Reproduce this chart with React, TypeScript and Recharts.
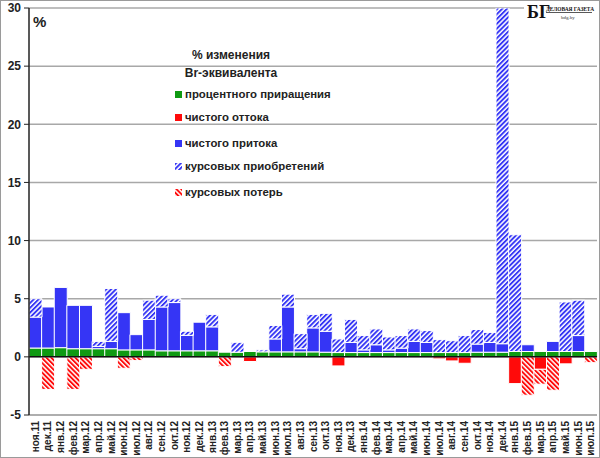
import { BarChart, Bar, XAxis, YAxis, CartesianGrid, ReferenceLine } from 'recharts';

const months = [
  'ноя.11', 'дек.11',
  'янв.12', 'фев.12', 'мар.12', 'апр.12', 'май.12', 'июн.12', 'июл.12', 'авг.12', 'сен.12', 'окт.12', 'ноя.12', 'дек.12',
  'янв.13', 'фев.13', 'мар.13', 'апр.13', 'май.13', 'июн.13', 'июл.13', 'авг.13', 'сен.13', 'окт.13', 'ноя.13', 'дек.13',
  'янв.14', 'фев.14', 'мар.14', 'апр.14', 'май.14', 'июн.14', 'июл.14', 'авг.14', 'сен.14', 'окт.14', 'ноя.14', 'дек.14',
  'янв.15', 'фев.15', 'мар.15', 'апр.15', 'май.15', 'июн.15', 'июл.15',
];

// процентного приращения
const interest = [
  0.76, 0.76,
  0.79, 0.7, 0.7, 0.7, 0.7, 0.6, 0.6, 0.6, 0.52, 0.52, 0.52, 0.52,
  0.52, 0.4, 0.4, 0.46, 0.43, 0.43, 0.43, 0.43, 0.43, 0.4, 0.37, 0.37,
  0.37, 0.37, 0.37, 0.37, 0.37, 0.37, 0.37, 0.37, 0.37, 0.4, 0.4, 0.4,
  0.46, 0.46, 0.46, 0.46, 0.46, 0.46, 0.46,
];

// чистого оттока
const outflow = [
  0, 0,
  0, 0, 0, 0, 0, 0, 0, 0, 0, 0, 0, 0,
  0, 0, 0, -0.4, 0, 0, 0, 0, 0, 0, -0.78, 0,
  0, 0, 0, 0, 0, 0, -0.17, -0.35, -0.55, 0, 0, 0,
  -2.3, 0, -1.07, 0, -0.6, 0, 0,
];

// чистого притока
const inflow = [
  2.66, 3.53,
  5.18, 3.73, 3.73, 0.2, 0.63, 3.2, 1.31, 2.62, 3.77, 4.15, 1.33, 2.46,
  2.06, 0, 0, 0, 0, 1.11, 3.86, 0.27, 2.06, 1.8, 0, 0.87,
  0.23, 0.67, 0.23, 0.38, 0.96, 0.87, 0, 0, 0, 0.7, 0.84, 0.73,
  0, 0.58, 0, 0.87, 0, 1.37, 0,
];

// курсовых приобретений
const gains = [
  1.58, 0,
  0, 0, 0, 0.43, 4.55, 0, 0, 1.65, 1.01, 0.33, 0.35, 0,
  1.07, 0, 0.85, 0, 0.17, 1.16, 1.1, 1.3, 1.16, 1.54, 1.17, 1.98,
  1.23, 1.36, 1.11, 1.08, 1.07, 1.02, 1.11, 1.02, 1.46, 1.25, 0.86, 29.5,
  10.04, 0, 0, 0, 4.26, 3.04, 0,
];

// курсовых потерь
const losses = [
  0, -2.8,
  0, -2.8, -1.07, 0, 0, -0.98, -0.32, 0, 0, 0, 0, 0,
  0, -0.84, 0, 0, 0, 0, 0, 0, 0, 0, 0, 0,
  0, 0, 0, 0, 0, 0, 0, 0, 0, 0, 0, 0,
  0, -3.3, -1.28, -2.87, 0, 0, -0.5,
];

const yTicks = [-5, 0, 5, 10, 15, 20, 25, 30];

const GREEN = '#0f9a12';
const RED = '#ff0a0a';
const BLUE = '#3535f5';

const chartData = months.map((m, i) => ({
  name: m,
  interest: interest[i],
  outflow: outflow[i],
  inflow: inflow[i],
  gains: gains[i],
  losses: losses[i],
}));

const legendItems = [
  { label: 'процентного приращения', fill: GREEN, top: 88 },
  { label: 'чистого оттока', fill: RED, top: 111 },
  { label: 'чистого притока', fill: BLUE, top: 137 },
  { label: 'курсовых приобретений', fill: 'url(#lgBlue)', top: 160 },
  { label: 'курсовых потерь', fill: 'url(#lgRed)', top: 186 },
];

const font = "'Liberation Sans', Arial, sans-serif";
const serif = "'Liberation Serif', serif";

function Hatch({ id, color, angle }: { id: string; color: string; angle: number }) {
  return (
    <pattern id={id} patternUnits="userSpaceOnUse" width="3.4" height="3.4" patternTransform={`rotate(${angle})`}>
      <rect width="3.4" height="3.4" fill="#fff" />
      <rect width="1.9" height="3.4" fill={color} />
    </pattern>
  );
}

// eslint-disable-next-line @typescript-eslint/no-explicit-any
const XTick = ({ x, y, payload }: any) => (
  <text
    x={x}
    y={y + 4}
    dy="0.35em"
    transform={`rotate(-90 ${x} ${y + 4})`}
    textAnchor="end"
    fontSize={10}
    fontWeight="bold"
    fontFamily={font}
    fill="#222"
  >
    {payload.value}
  </text>
);

export default function App() {
  return (
    <div style={{ position: 'absolute', left: 0, top: 0, width: 600, height: 458, background: '#fff', fontFamily: font }}>
      <BarChart
        width={600}
        height={458}
        data={chartData}
        stackOffset="sign"
        barCategoryGap={0}
        margin={{ top: 8, right: 3, bottom: 0, left: 0 }}
      >
        <defs>
          <Hatch id="hatchBlue" color={BLUE} angle={45} />
          <Hatch id="hatchRed" color={RED} angle={-45} />
        </defs>
        <CartesianGrid vertical={false} stroke="#a8a8a8" strokeWidth={1.5} />
        <XAxis
          dataKey="name"
          interval={0}
          tick={<XTick />}
          tickLine={false}
          tickSize={0}
          height={43}
          axisLine={{ stroke: '#a8a8a8', strokeWidth: 1.5 }}
        />
        <YAxis
          domain={[-5, 30]}
          ticks={yTicks}
          allowDataOverflow
          width={29}
          tickSize={5}
          tickMargin={3}
          tickLine={{ stroke: '#222' }}
          axisLine={{ stroke: '#222', strokeWidth: 1.5 }}
          tick={{ fontSize: 12, fontWeight: 'bold', fill: '#222', fontFamily: font }}
        />
        <Bar dataKey="interest" stackId="a" fill={GREEN} stroke="#fff" strokeWidth={1} isAnimationActive={false} />
        <Bar dataKey="outflow" stackId="a" fill={RED} stroke="#fff" strokeWidth={1} isAnimationActive={false} />
        <Bar dataKey="inflow" stackId="a" fill={BLUE} stroke="#fff" strokeWidth={1} isAnimationActive={false} />
        <Bar dataKey="gains" stackId="a" fill="url(#hatchBlue)" stroke="#fff" strokeWidth={1} isAnimationActive={false} />
        <Bar dataKey="losses" stackId="a" fill="url(#hatchRed)" stroke="#fff" strokeWidth={1} isAnimationActive={false} />
        <ReferenceLine y={0} stroke="#111" strokeWidth={1.5} />
      </BarChart>

      <div style={{ position: 'absolute', left: 33, top: 13, fontSize: 15, fontWeight: 'bold', color: '#222' }}>%</div>

      <div style={{ position: 'absolute', left: 150, top: 46, width: 162, textAlign: 'center', fontSize: 12, fontWeight: 'bold', color: '#222', lineHeight: '18px' }}>
        <div>% изменения</div>
        <div>Br-эквивалента</div>
      </div>
      {legendItems.map((it) => (
        <div
          key={it.label}
          style={{ position: 'absolute', left: 175, top: it.top, display: 'flex', alignItems: 'center', fontSize: 11.4, fontWeight: 'bold', color: '#222', whiteSpace: 'nowrap' }}
        >
          <svg width={7} height={7} style={{ marginRight: 3 }}>
            <defs>
              <Hatch id="lgBlue" color={BLUE} angle={45} />
              <Hatch id="lgRed" color={RED} angle={-45} />
            </defs>
            <rect width={7} height={7} fill={it.fill} />
          </svg>
          <span>{it.label}</span>
        </div>
      ))}

      <svg width={74} height={22} style={{ position: 'absolute', left: 524, top: 1, background: '#fff' }}>
        <text x={3} y={17} fontFamily={serif} fontWeight="bold" fontSize={18} fill="#111">БГ</text>
        <text x={22} y={10} fontFamily={serif} fontWeight="bold" fontSize={5.4} fill="#111">ДЕЛОВАЯ ГАЗЕТА</text>
        <line x1={22} y1={11.5} x2={68} y2={11.5} stroke="#111" strokeWidth={0.7} />
        <text x={37} y={18} fontFamily={serif} fontSize={5} fill="#333">bdg.by</text>
      </svg>

      <div style={{ position: 'absolute', left: 0, top: 0, width: 598, height: 456, border: '1px solid #9a9a9a', pointerEvents: 'none' }} />
    </div>
  );
}
